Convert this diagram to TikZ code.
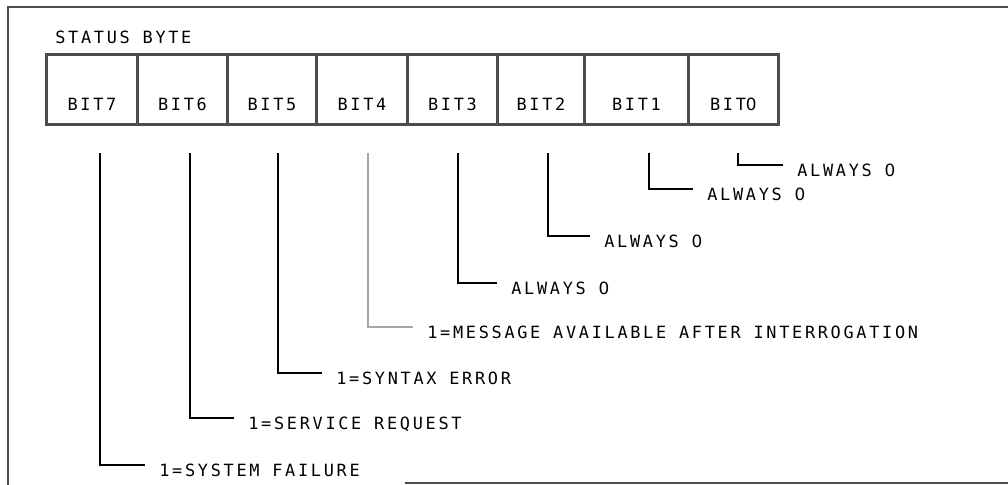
\documentclass[tikz,border=0pt]{standalone}
\usepackage{fontspec}
\newfontfamily\plotfont{DejaVu Sans Mono}[LetterSpace=16]
\newfontfamily\plainzerofont{DejaVu Sans}[LetterSpace=12]
\newcommand\zro{{\plainzerofont 0}}
\usetikzlibrary{positioning}
\tikzset{
    every picture/.style={line width=0.5pt},
    frameline/.style={draw=black!70,line width=2pt},
    bitcell/.style={draw=black!70,line width=2pt,inner sep=0pt,anchor=north west,
        minimum height=1.75cm,text height=1.4cm,text depth=0.35cm},
    lead/.style={line width=1.1pt},
    lbl/.style={anchor=west,inner xsep=0.35cm,inner ysep=0pt,text height=0.56cm,text depth=0pt}
}

\begin{document}
\begin{tikzpicture}[x=0.025cm,y=-0.025cm,
        every node/.style={font=\plotfont\fontsize{12}{14}\selectfont}]
    \useasboundingbox (0,0) rectangle (1008,485);

    % outer frame, cut off at the right
    \draw[frameline] (1010,7) -- (8,7) -- (8,487);
    \draw[frameline] (405,483) -- (1010,483);

    % the status byte
    \node[anchor=west,inner sep=0pt] (title) at (55,37) {STATUS BYTE};
    \foreach \b/\xa/\xb/\nm in {7/45/136/7,6/136/226/6,5/226/315/5,4/315/406/4,
                                3/406/496/3,2/496/583/2,1/583/687/1,0/687/777/\zro}{
        \pgfmathsetmacro\cw{(\xb-\xa)*0.025}
        \node[bitcell,minimum width=\cw cm] (bit\b) at (\xa,53) {BIT\nm};
    }

    % meaning of each bit
    \foreach \b/\xv/\yh/\xe/\col/\txt in {
            7/100/465/145/black/1=SYSTEM FAILURE,
            6/190/418/234/black/1=SERVICE REQUEST,
            5/278/373/322/black/1=SYNTAX ERROR,
            4/368/327/413/black!35/1=MESSAGE AVAILABLE AFTER INTERROGATION,
            3/458/283/497/black/ALWAYS \zro,
            2/548/236/590/black/ALWAYS \zro,
            1/649/189/693/black/ALWAYS \zro,
            0/738/165/783/black/ALWAYS \zro}{
        \coordinate (top\b) at (\xv,153);
        \node[lbl] (what\b) at (\xe,\yh) {\txt};
        \draw[lead,draw=\col] (top\b) |- (what\b.west);
    }
\end{tikzpicture}
\end{document}
